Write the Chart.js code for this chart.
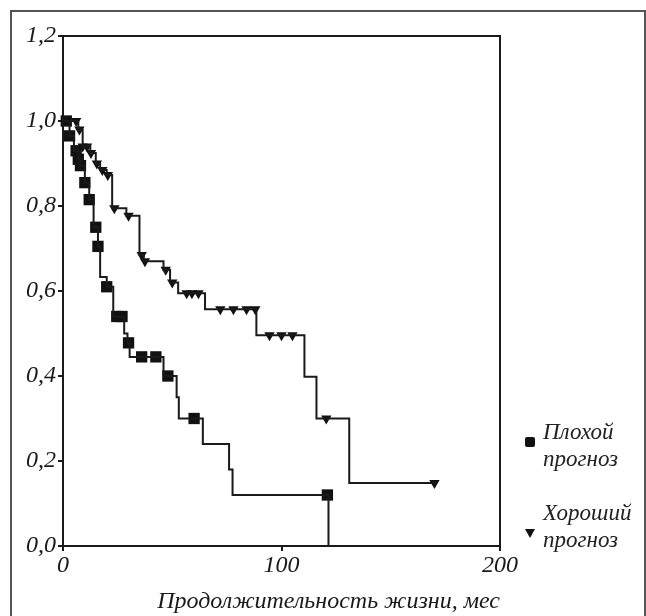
<!DOCTYPE html>
<html>
<head>
<meta charset="utf-8">
<script src="https://cdn.jsdelivr.net/npm/chart.js@4.4.1/dist/chart.umd.min.js"></script>
<style>
  body { margin: 0; background: #fff; }
  #wrap { position: relative; width: 646px; height: 616px; overflow: hidden; }
  #frame { position: absolute; left: 10px; top: 10px; width: 632px; height: 620px; border: 2px solid #555; }
  canvas { position: absolute; left: 0; top: 0; }
  .leg { position: absolute; font-family: "Liberation Serif", "Times New Roman", serif; font-style: italic; font-size: 23px; line-height: 27px; color: #222; }
  .sq { position: absolute; width: 10px; height: 10px; background: #111; border-radius: 2px; }
  .tri { position: absolute; width: 0; height: 0; border-left: 5px solid transparent; border-right: 5px solid transparent; border-top: 9px solid #111; }
</style>
</head>
<body>
<div id="wrap">
  <div id="frame"></div>
  <canvas id="chart" width="646" height="616"></canvas>
  <div class="sq" style="left:525px; top:437px;"></div>
  <div class="leg" style="left:543px; top:418px;">Плохой<br>прогноз</div>
  <div class="tri" style="left:525px; top:529px;"></div>
  <div class="leg" style="left:543px; top:499px;">Хороший<br>прогноз</div>
</div>
<script>
// Плохой прогноз: ступенчатая кривая (время, доля выживших)
const badT = [0, 3, 5, 7, 8, 10, 12, 14, 16, 17, 20, 23, 28, 29.5, 30.5, 46, 52, 53, 64, 76, 77.6, 121.5];
const badS = [1.0, 0.965, 0.93, 0.91, 0.895, 0.855, 0.815, 0.75, 0.705, 0.633, 0.61, 0.54, 0.50, 0.478, 0.445, 0.40, 0.35, 0.30, 0.24, 0.18, 0.12, 0.0];
// цензурированные наблюдения (квадраты)
const badCensT = [1.5, 3, 6, 7, 8, 10, 12, 15, 16, 20, 24.6, 27, 30, 36, 42.5, 48, 60, 121];
const badCensS = [1.0, 0.965, 0.93, 0.91, 0.895, 0.855, 0.815, 0.75, 0.705, 0.61, 0.54, 0.54, 0.478, 0.445, 0.445, 0.40, 0.30, 0.12];

// Хороший прогноз
const goodT = [0, 7, 9, 12.5, 15, 17, 20, 22.5, 29, 35, 37, 46, 49, 52.7, 65, 88.5, 110.5, 116, 131, 170];
const goodS = [1.0, 0.98, 0.94, 0.925, 0.90, 0.885, 0.873, 0.795, 0.777, 0.685, 0.67, 0.65, 0.62, 0.595, 0.557, 0.496, 0.398, 0.30, 0.148, 0.148];
const goodCensT = [6, 7.5, 9, 11, 12.8, 15.5, 18, 20.5, 23.5, 30, 36, 37.5, 47, 50, 56.6, 59, 62, 72, 78, 84, 88, 94.5, 100, 105, 120.5, 170];
const goodCensS = [1.0, 0.98, 0.94, 0.94, 0.925, 0.90, 0.885, 0.873, 0.795, 0.777, 0.685, 0.67, 0.65, 0.62, 0.595, 0.595, 0.595, 0.557, 0.557, 0.557, 0.557, 0.496, 0.496, 0.496, 0.30, 0.148];

const yTickLabels = ['0,0', '0,2', '0,4', '0,6', '0,8', '1,0', '1,2'];
const xTickLabels = ['0', '100', '200'];
const xTitle = 'Продолжительность жизни, мес';

const toPts = (xs, ys) => xs.map((x, i) => ({ x: x, y: ys[i] }));
const font = { family: '"Liberation Serif", "Times New Roman", serif', style: 'italic', size: 24 };
const ink = '#1a1a1a';

// рамка области построения
const boxPlugin = {
  id: 'box',
  afterDraw(chart) {
    const a = chart.chartArea, ctx = chart.ctx;
    ctx.save();
    ctx.strokeStyle = ink;
    ctx.lineWidth = 2;
    ctx.strokeRect(a.left, a.top, a.right - a.left, a.bottom - a.top);
    ctx.restore();
  }
};

new Chart(document.getElementById('chart'), {
  type: 'scatter',
  data: {
    datasets: [
      { type: 'line', data: toPts(badT, badS), stepped: true, borderColor: ink, borderWidth: 2, pointRadius: 0, fill: false },
      { type: 'line', data: toPts(goodT, goodS), stepped: true, borderColor: ink, borderWidth: 2, pointRadius: 0, fill: false },
      { data: toPts(badCensT, badCensS), pointStyle: 'rect', pointRadius: 8, backgroundColor: '#111', borderColor: '#111', borderWidth: 0 },
      { data: toPts(goodCensT, goodCensS), pointStyle: 'triangle', rotation: 180, pointRadius: 6, backgroundColor: '#111', borderColor: '#111', borderWidth: 0 }
    ]
  },
  options: {
    responsive: false,
    animation: false,
    clip: false,
    layout: { padding: { left: 0, top: 36, right: 146, bottom: 0 } },
    plugins: { legend: { display: false }, tooltip: { enabled: false } },
    scales: {
      x: {
        type: 'linear', min: 0, max: 200,
        afterFit: s => { s.height = 70; },
        afterBuildTicks: s => { s.ticks = xTickLabels.map(v => ({ value: Number(v) })); },
        ticks: { font: font, color: ink, padding: 0, maxRotation: 0, callback: (v, i) => xTickLabels[i] },
        grid: { display: true, drawOnChartArea: false, drawTicks: true, tickLength: 5, color: ink, lineWidth: 2 },
        border: { display: true, color: ink, width: 2 },
        title: { display: true, text: xTitle, align: 'end', font: font, color: ink, padding: { top: 2, bottom: 0 } }
      },
      y: {
        type: 'linear', min: 0, max: 1.2,
        afterFit: s => { s.width = 63; },
        afterBuildTicks: s => { s.ticks = yTickLabels.map(v => ({ value: Number(v.replace(',', '.')) })); },
        ticks: { font: font, color: ink, padding: 2, callback: (v, i) => yTickLabels[i] },
        grid: { display: true, drawOnChartArea: false, drawTicks: true, tickLength: 5, color: ink, lineWidth: 2 },
        border: { display: true, color: ink, width: 2 }
      }
    }
  },
  plugins: [boxPlugin]
});
</script>
</body>
</html>
